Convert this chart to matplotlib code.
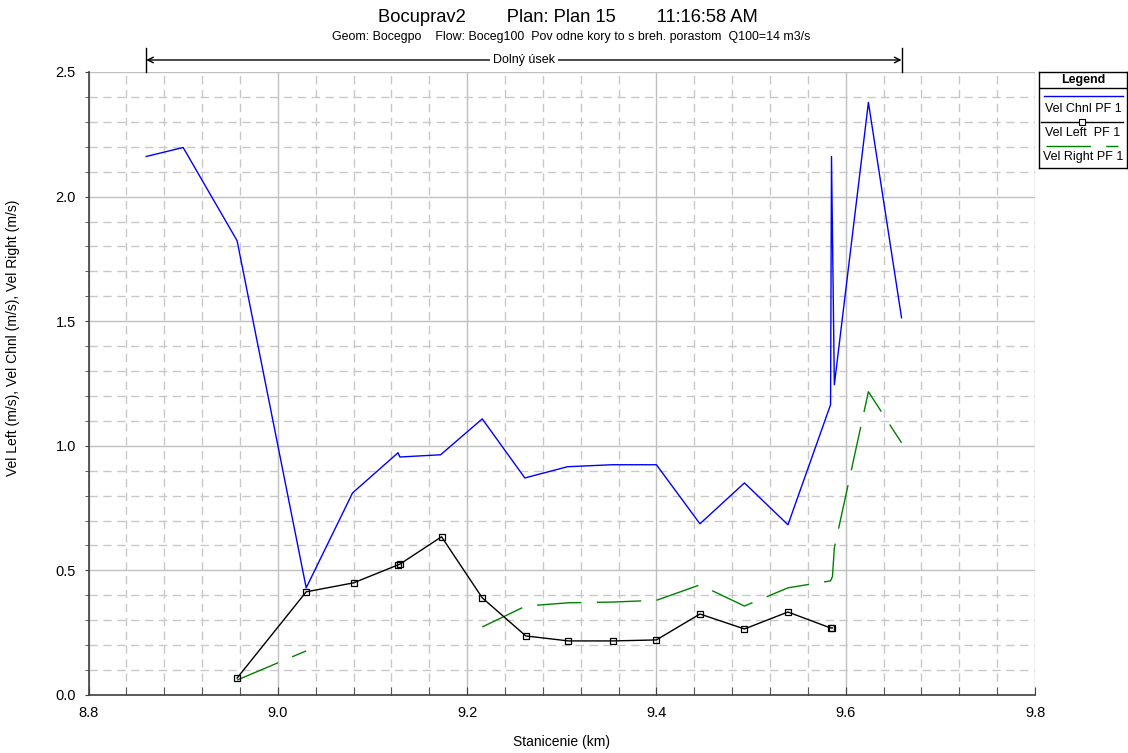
import numpy as np
import matplotlib
matplotlib.use('Agg')
import matplotlib.pyplot as plt
from matplotlib.ticker import MultipleLocator

plt.rcParams['font.family'] = ['Liberation Sans', 'DejaVu Sans']

# Data
sta_chnl = [8.861, 8.900, 8.957, 9.030, 9.079, 9.127, 9.129, 9.172, 9.216, 9.261,
            9.306, 9.353, 9.400, 9.446, 9.493, 9.539, 9.584, 9.585, 9.588, 9.624, 9.659]
vel_chnl = [2.161, 2.197, 1.823, 0.430, 0.811, 0.972, 0.955, 0.964, 1.108, 0.871,
            0.916, 0.924, 0.924, 0.687, 0.851, 0.683, 1.165, 2.161, 1.245, 2.378, 1.514]

sta_left = [8.957, 9.030, 9.080, 9.127, 9.129, 9.173, 9.216, 9.262, 9.307, 9.354,
            9.400, 9.446, 9.493, 9.539, 9.584, 9.586]
vel_left = [0.068, 0.414, 0.450, 0.522, 0.525, 0.635, 0.390, 0.237, 0.217, 0.217,
            0.221, 0.325, 0.265, 0.333, 0.269, 0.269]

sta_right = [8.957, 9.030, 9.080, 9.216, 9.262, 9.307, 9.354, 9.400, 9.446, 9.493,
             9.539, 9.584, 9.586, 9.588, 9.624, 9.659]
vel_right = [0.060, 0.177, np.nan, 0.273, 0.357, 0.370, 0.373, 0.380, 0.442, 0.357,
             0.430, 0.458, 0.475, 0.590, 1.217, 1.012]

reach_start, reach_end = 8.861, 9.659

fig = plt.figure(figsize=(11.28, 7.53), dpi=100)
ax = fig.add_axes([88.5 / 1128, 1 - 695 / 753, (1035 - 88.5) / 1128, (695 - 72) / 753])

ax.plot(sta_chnl, vel_chnl, color='#0000ff', lw=1.0, zorder=4)
ax.plot(sta_left, vel_left, color='black', lw=1.0, marker='s', ms=4.5,
        mfc='none', mec='black', mew=0.9, zorder=5)
ax.plot(sta_right, vel_right, color='#008000', lw=1.0, dashes=(32, 11), zorder=3)

ax.set_xlim(8.8, 9.8)
ax.set_ylim(0, 2.5)
ax.xaxis.set_major_locator(MultipleLocator(0.2))
ax.xaxis.set_minor_locator(MultipleLocator(0.04))
ax.yaxis.set_major_locator(MultipleLocator(0.5))
ax.yaxis.set_minor_locator(MultipleLocator(0.1))
ax.set_xticklabels([f'{v:.1f}' for v in ax.get_xticks()])
ax.set_yticklabels([f'{v:.1f}' for v in ax.get_yticks()])
ax.grid(which='major', color='#c0c0c0', lw=1.0, ls='-')
ax.grid(which='minor', color='#c8c8c8', lw=1.0, ls=(0, (6, 4)))
ax.set_axisbelow(True)
for s in ['top', 'right']:
    ax.spines[s].set_visible(False)
for s in ['left', 'bottom']:
    ax.spines[s].set_color('#404040')
    ax.spines[s].set_linewidth(1.2)
ax.tick_params(axis='x', which='both', direction='in', length=6, pad=8,
               colors='#404040', labelcolor='black', labelsize=10.5)
ax.tick_params(axis='y', which='both', direction='out', length=3, pad=6,
               colors='#404040', labelcolor='black', labelsize=10.5)

ax.set_xlabel('Stanicenie (km)', fontsize=10, labelpad=11)
ax.set_ylabel('Vel Left (m/s), Vel Chnl (m/s), Vel Right (m/s)', fontsize=10)
ax.yaxis.set_label_coords((20 - 88.5) / 946, (695 - 338) / 623)

# Titles
fig.text(568 / 1128, 1 - 18 / 753, 'Bocuprav2        Plan: Plan 15        11:16:58 AM',
         ha='center', va='center', fontsize=13.2)
fig.text(571 / 1128, 1 - 37 / 753,
         'Geom: Bocegpo    Flow: Boceg100  Pov odne kory to s breh. porastom  Q100=14 m3/s',
         ha='center', va='center', fontsize=8.9)

# Reach annotation
ytop = 2.5 + (72 - 48) / 249
yarr = 2.5 + (72 - 60) / 249
ax.plot([reach_start, reach_start], [2.5, ytop], color='black', lw=1.0, clip_on=False)
ax.plot([reach_end, reach_end], [2.5, ytop], color='black', lw=1.0, clip_on=False)
ax.annotate('', xy=(reach_start, yarr), xytext=(reach_end, yarr),
            arrowprops=dict(arrowstyle='<->', color='black', lw=1.0,
                            shrinkA=0, shrinkB=0), annotation_clip=False)
ax.text((reach_start + reach_end) / 2, yarr, 'Dolný úsek', ha='center',
        va='center', fontsize=9,
        bbox=dict(facecolor='white', edgecolor='none', pad=2), clip_on=False)

# Legend box
lax = fig.add_axes([1039 / 1128, 1 - 168 / 753, 88 / 1128, 96 / 753])
lax.set_xlim(0, 88)
lax.set_ylim(96, 0)
lax.set_xticks([])
lax.set_yticks([])
for s in lax.spines.values():
    s.set_color('black')
    s.set_linewidth(1.0)
lax.plot([0, 88], [16, 16], color='black', lw=1.0)
lax.text(44, 8, 'Legend', ha='center', va='center', fontsize=9, fontweight='bold')
lax.plot([5, 84], [24, 24], color='#0000ff', lw=1.0)
lax.text(44, 37, 'Vel Chnl PF 1', ha='center', va='center', fontsize=9)
lax.plot([2, 84], [50, 50], color='black', lw=1.0)
lax.plot([43], [50], marker='s', ms=4, mfc='white', mec='black', mew=0.8)
lax.text(44, 61, 'Vel Left  PF 1', ha='center', va='center', fontsize=9)
lax.plot([7, 79], [74, 74], color='#008000', lw=1.0, dashes=(32, 11))
lax.text(44, 85, 'Vel Right PF 1', ha='center', va='center', fontsize=9)

fig.savefig('out.png', dpi=100)
